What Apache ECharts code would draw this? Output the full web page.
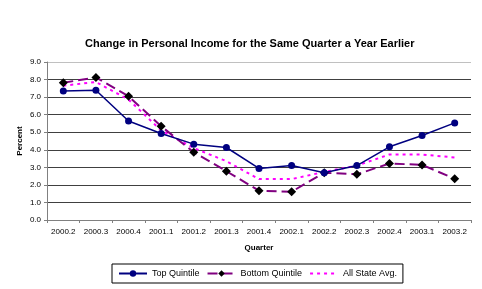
<!DOCTYPE html>
<html>
<head>
<meta charset="utf-8">
<script src="https://cdn.jsdelivr.net/npm/echarts@6/dist/echarts.min.js"></script>
<style>
  html, body { margin: 0; padding: 0; background: #fff; }
  #chart { width: 482px; height: 289px; }
</style>
</head>
<body>
<div id="chart"></div>
<script>
const quarters = ['2000.2', '2000.3', '2000.4', '2001.1', '2001.2', '2001.3', '2001.4',
  '2002.1', '2002.2', '2002.3', '2002.4', '2003.1', '2003.2'];
const topQuintile = [7.35, 7.39, 5.64, 4.93, 4.32, 4.13, 2.94, 3.1, 2.69, 3.1, 4.17, 4.81, 5.53];
const bottomQuintile = [7.82, 8.12, 7.05, 5.34, 3.86, 2.78, 1.67, 1.61, 2.69, 2.6, 3.22, 3.14, 2.35];
const allStateAvg = [7.65, 7.86, 6.86, 5.1, 4.1, 3.35, 2.33, 2.33, 2.74, 3.1, 3.73, 3.73, 3.56];

const chart = echarts.init(document.getElementById('chart'));
const font = 'Liberation Sans, Arial, sans-serif';

// gridlines: darker inside, lighter at the top
const gridColors = ['#404040', '#404040', '#404040', '#404040', '#404040',
  '#404040', '#404040', '#404040', '#404040', '#c0c0c0'];

chart.setOption({
  animation: false,
  backgroundColor: '#fff',
  title: {
    text: 'Change in Personal Income for the Same Quarter a Year Earlier',
    left: 80,
    top: 33,
    textStyle: { fontFamily: font, fontSize: 11, fontWeight: 'bold', color: '#000' }
  },
  grid: { left: 47, right: 11, top: 62, bottom: 69, containLabel: false },
  xAxis: {
    type: 'category',
    data: quarters,
    boundaryGap: true,
    name: 'Quarter',
    nameLocation: 'middle',
    nameGap: 24,
    nameTextStyle: { fontFamily: font, fontSize: 8, fontWeight: 'bold', color: '#000' },
    axisLine: { lineStyle: { color: '#808080', width: 1 } },
    axisTick: { show: true, length: 3, lineStyle: { color: '#808080' } },
    axisLabel: { fontFamily: font, fontSize: 8, color: '#000', margin: 8, interval: 0 }
  },
  yAxis: {
    type: 'value',
    min: 0,
    max: 9,
    interval: 1,
    name: 'Percent',
    nameLocation: 'middle',
    nameGap: 23,
    nameMoveOverlap: false,
    nameRotate: 90,
    nameTextStyle: { fontFamily: font, fontSize: 8, fontWeight: 'bold', color: '#000' },
    axisLine: { show: true, lineStyle: { color: '#808080' } },
    axisTick: { show: true, length: 3, lineStyle: { color: '#808080' } },
    axisLabel: { fontFamily: font, fontSize: 8, color: '#000', margin: 6, formatter: v => v.toFixed(1) },
    splitLine: { lineStyle: { color: gridColors, width: 1 } }
  },
  legend: {
    bottom: 6,
    left: 112,
    itemWidth: 28,
    itemHeight: 8,
    itemGap: 7,
    padding: [5, 6],
    borderColor: '#000',
    borderWidth: 1,
    textStyle: { fontFamily: font, fontSize: 9, color: '#000' },
    data: [
      { name: 'Top Quintile' },
      { name: 'Bottom Quintile' },
      { name: 'All State Avg.', itemStyle: { opacity: 0 } }
    ]
  },
  series: [
    {
      name: 'Top Quintile',
      type: 'line',
      data: topQuintile,
      symbol: 'circle',
      symbolSize: 7,
      itemStyle: { color: '#000080' },
      lineStyle: { color: '#000080', width: 1.5 },
      z: 3
    },
    {
      name: 'Bottom Quintile',
      type: 'line',
      data: bottomQuintile,
      symbol: 'diamond',
      symbolSize: 9,
      itemStyle: { color: '#000' },
      lineStyle: { color: '#800080', width: 2, type: [10, 5] },
      z: 2
    },
    {
      name: 'All State Avg.',
      type: 'line',
      data: allStateAvg,
      symbol: 'none',
      itemStyle: { color: '#ff00ff' },
      lineStyle: { color: '#ff00ff', width: 2, type: [3, 4] },
      z: 1
    }
  ]
});
</script>
</body>
</html>
